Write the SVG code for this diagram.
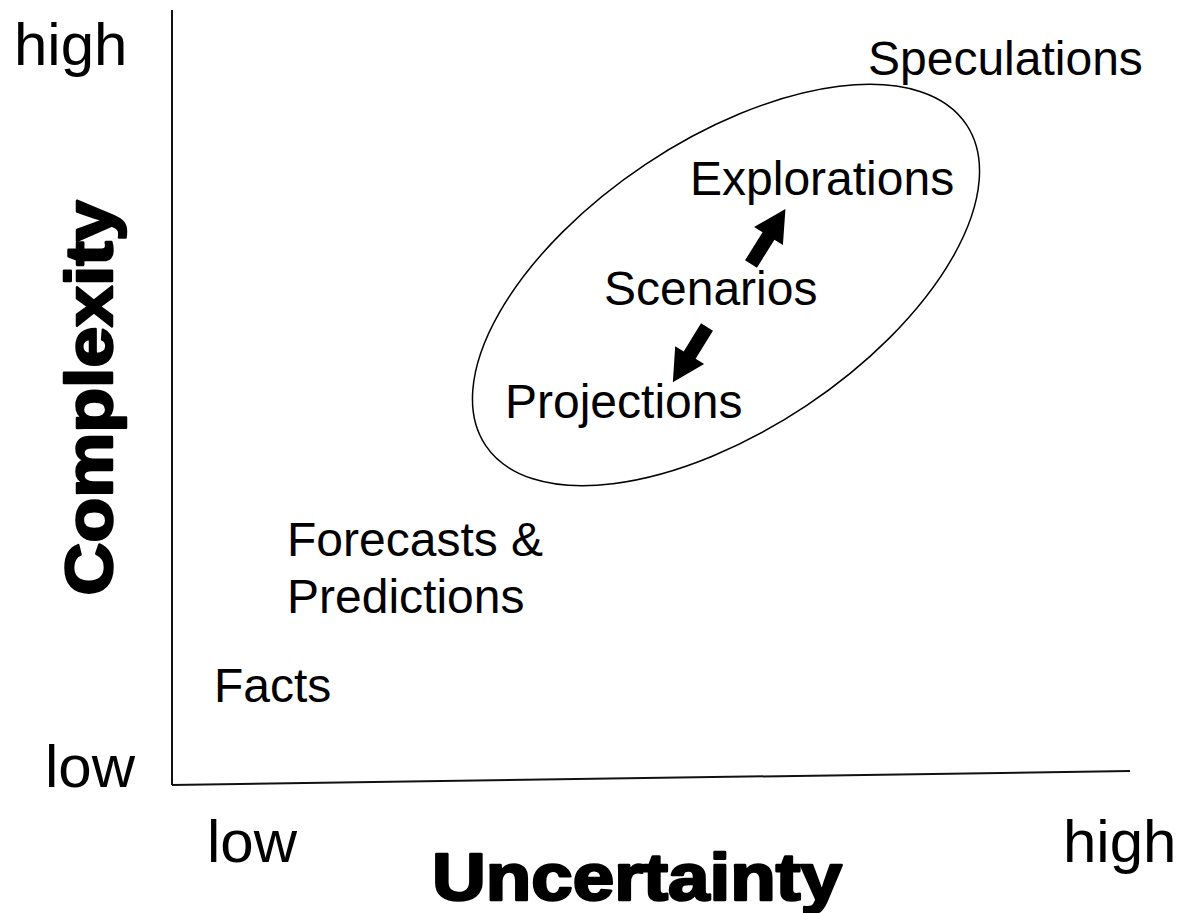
<svg xmlns="http://www.w3.org/2000/svg" width="1182" height="913" viewBox="0 0 1182 913">
<style>
.t{font-family:"Liberation Sans",Arial,sans-serif;font-size:48px;fill:#000}
.ax{font-family:"Liberation Sans",Arial,sans-serif;font-size:60px;fill:#000}
.b{font-family:"Liberation Sans",Arial,sans-serif;font-weight:bold;font-size:66px;fill:#000;stroke:#000;stroke-width:2.5;stroke-linejoin:round}
.ln{stroke:#111;stroke-width:2;fill:none}
</style>
<defs>
<path id="blk" d="M0,-7 L33,-7 L33,-17 L65,0 L33,17 L33,7 L0,7 Z" fill="#000"/>
</defs>
<rect width="1182" height="913" fill="#fff"/>
<g id="axes">
<line class="ln" x1="172" y1="10" x2="172" y2="785"/>
<line class="ln" x1="172" y1="785" x2="1130" y2="771"/>
</g>
<g id="axis-labels">
<text class="ax" x="14" y="65">high</text>
<text class="ax" x="45" y="787">low</text>
<text class="ax" x="207" y="862">low</text>
<text class="ax" x="1063" y="862">high</text>
<text class="b" x="637" y="900" text-anchor="middle" textLength="410" lengthAdjust="spacingAndGlyphs">Uncertainty</text>
<text class="b" text-anchor="middle" transform="translate(112,398) rotate(-90)" textLength="395" lengthAdjust="spacingAndGlyphs">Complexity</text>
</g>
<g id="scenario-ellipse">
<ellipse cx="726" cy="285" rx="289" ry="145" transform="rotate(-33.7 726 285)" fill="none" stroke="#000" stroke-width="1.5"/>
</g>
<g id="speculations"><text class="t" x="868" y="75">Speculations</text></g>
<g id="explorations"><text class="t" x="690" y="195">Explorations</text></g>
<g id="scenarios"><text class="t" x="604" y="305">Scenarios</text></g>
<g id="projections"><text class="t" x="505" y="418">Projections</text></g>
<g id="forecasts"><text class="t" x="287" y="556">Forecasts &amp;</text><text class="t" x="287" y="613">Predictions</text></g>
<g id="facts"><text class="t" x="214" y="702">Facts</text></g>
<g id="connectors">
<use href="#blk" transform="translate(751,264) rotate(-58)"/>
<use href="#blk" transform="translate(707,327) rotate(121.7)"/>
</g>
</svg>
